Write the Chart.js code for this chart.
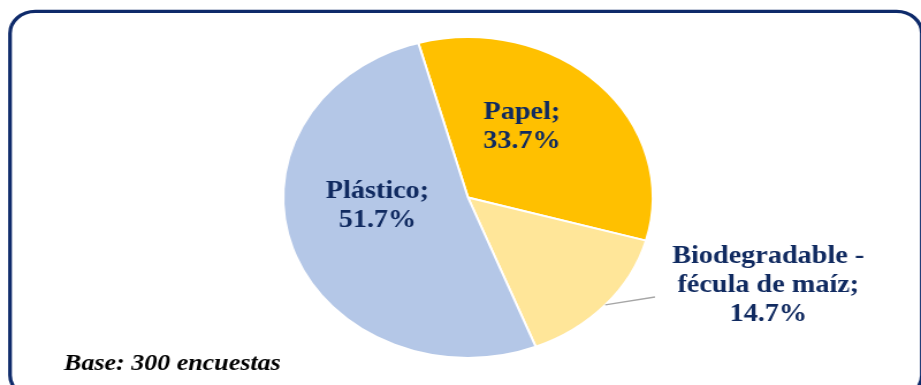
<!DOCTYPE html>
<html>
<head>
<meta charset="utf-8">
<script src="https://cdn.jsdelivr.net/npm/chart.js@4.4.1/dist/chart.umd.min.js"></script>
<style>
  html, body { margin: 0; padding: 0; background: #ffffff; overflow: hidden; }
  #wrap { width: 800px; height: 385px; transform: scaleX(1.15125); transform-origin: 0 0; }
  canvas { display: block; }
</style>
</head>
<body>
<div id="wrap"><canvas id="chart" width="800" height="385"></canvas></div>
<script>
// Survey answers: preferred bag material
const categories = ['Papel', 'Biodegradable - fécula de maíz', 'Plástico'];
const labelLines = [['Papel;', '33.7%'], ['Biodegradable -', 'fécula de maíz;', '14.7%'], ['Plástico;', '51.7%']];
const shares = [33.7, 14.7, 51.7];
const sliceColors = ['#FFC000', '#FFE699', '#B4C7E7'];
const baseNote = 'Base: 300 encuestas';

const navy = '#102a60';

// Label placement relative to the pie centre, in units of the radius
const labelOffsets = [
  { dx: 0.292, dy: -0.44 },
  { dx: 1.625, dy: 0.55 },
  { dx: -0.49, dy: 0.055 }
];

const framePlugin = {
  id: 'frame',
  beforeDraw(chart) {
    const ctx = chart.ctx;
    ctx.save();
    ctx.strokeStyle = '#0e2a6a';
    ctx.lineWidth = 3.2;
    ctx.beginPath();
    ctx.roundRect(8.7, 11.3, 792, 386, 22);
    ctx.stroke();
    ctx.restore();
  },
  afterDraw(chart) {
    const ctx = chart.ctx;
    const arcs = chart.getDatasetMeta(0).data;
    ctx.save();
    ctx.fillStyle = navy;
    ctx.font = 'bold 24.5px "Liberation Serif", "Times New Roman", serif';
    ctx.textAlign = 'center';
    ctx.textBaseline = 'middle';
    arcs.forEach((arc, i) => {
      const r = arc.outerRadius;
      const off = labelOffsets[i];
      const cx = arc.x + off.dx * r;
      const cy = arc.y + off.dy * r;
      const lines = labelLines[i];
      const lh = 29;
      const top = cy - (lines.length - 1) * lh / 2;
      lines.forEach((t, k) => ctx.fillText(t, cx, top + k * lh));
      if (i === 1) {
        // leader line from the slice edge to its outside label
        const mid = (arc.startAngle + arc.endAngle) / 2;
        ctx.strokeStyle = '#a6a6a6';
        ctx.lineWidth = 1.3;
        ctx.beginPath();
        ctx.moveTo(arc.x + Math.cos(mid) * r, arc.y + Math.sin(mid) * r);
        ctx.lineTo(arc.x + 1.012 * r, arc.y + 0.62 * r);
        ctx.stroke();
      }
    });
    ctx.fillStyle = '#000000';
    ctx.font = 'italic bold 22.6px "Liberation Serif", "Times New Roman", serif';
    ctx.textAlign = 'left';
    ctx.textBaseline = 'alphabetic';
    ctx.fillText(baseNote, 55.6, 370);
    ctx.restore();
  }
};

new Chart(document.getElementById('chart'), {
  type: 'pie',
  data: {
    labels: categories,
    datasets: [{
      data: shares,
      backgroundColor: sliceColors,
      borderColor: '#ffffff',
      borderWidth: 2
    }]
  },
  options: {
    responsive: false,
    animation: false,
    rotation: -15.6,
    layout: { padding: { left: 245, right: 232, top: 36, bottom: 26 } },
    plugins: { legend: { display: false }, tooltip: { enabled: false } }
  },
  plugins: [framePlugin]
});
</script>
</body>
</html>
